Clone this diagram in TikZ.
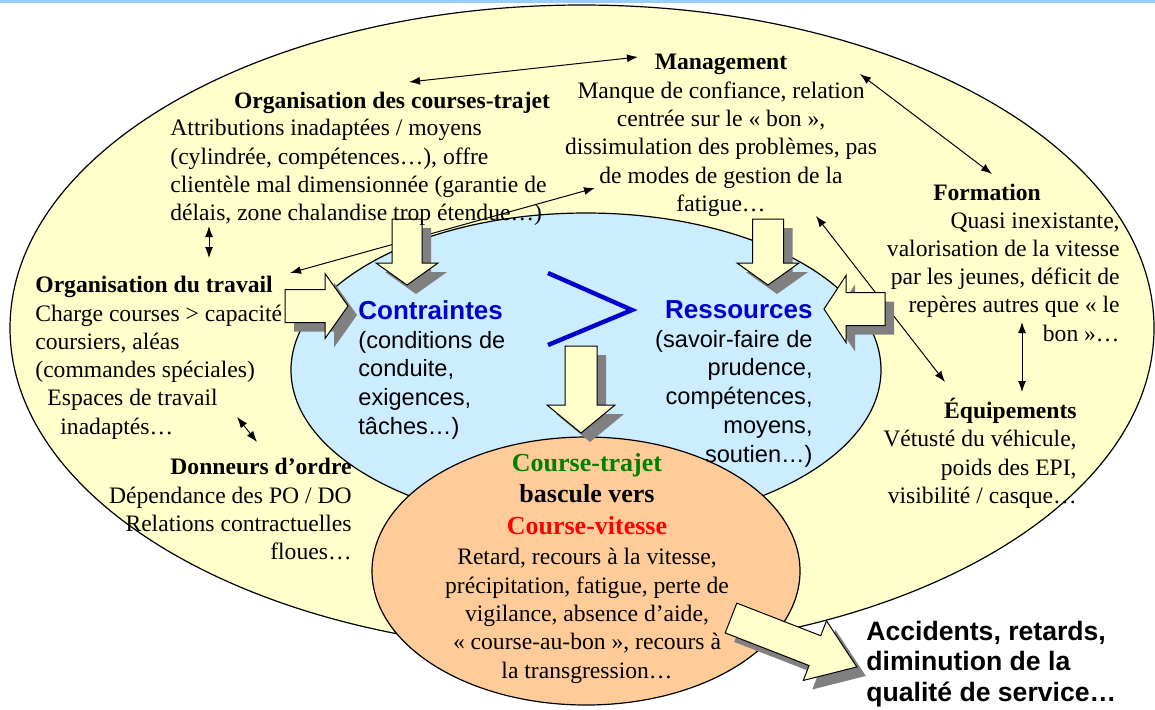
\documentclass[tikz,border=0pt]{standalone}
\usepackage{fontspec}
\setmainfont{Liberation Serif}
\newfontfamily\arial{Liberation Sans}
\usetikzlibrary{arrows.meta}
\definecolor{jaune}{RGB}{255,255,204}
\definecolor{ciel}{RGB}{204,236,255}
\definecolor{saumon}{RGB}{255,204,153}
\definecolor{bleu}{RGB}{0,0,204}
\definecolor{vert}{RGB}{0,128,0}
\definecolor{ombre}{RGB}{128,128,128}
\definecolor{bandeau}{RGB}{153,204,255}
\tikzset{
  txt/.style={inner sep=0pt,font=\fontsize{11.8}{14.15}\selectfont},
  sans/.style={inner sep=0pt,font=\arial\fontsize{11.8}{14.4}\selectfont},
  lien/.style={<->,>={Latex[length=5.5pt,width=4pt]},line width=.5pt},
  ombrage/.style={fill=ombre},
  bloc/.style={fill=jaune,draw=black,line width=.5pt},
  zone/.style={draw=black,line width=.6pt}
}
% tail, angle, length, half shaft, half head, head length
\newcommand\fleche[6]{%
  \foreach \dx/\st in {9/ombrage,0/bloc}
    \path[\st,shift={#1},shift={(\dx,\dx)},rotate=#2]
      (0,-#4)--(#3-#6,-#4)--(#3-#6,-#5)--(#3,0)--(#3-#6,#5)--(#3-#6,#4)--(0,#4)--cycle;}
\begin{document}
\begin{tikzpicture}[x=.5pt,y=-.5pt]
\useasboundingbox (0,0) rectangle (1155,709);
\fill[bandeau] (0,0) rectangle (1155,2.5);
\path[zone,fill=jaune] (582,328) ellipse [x radius=572,y radius=323];
\path[zone,fill=ciel] (586,370) ellipse [x radius=295,y radius=157];
\path[zone,fill=saumon] (586,571) ellipse [x radius=214,y radius=134];
\draw[bleu,line width=2.2pt] (548,273)--(632,310)--(548,345);

\coordinate (oc1) at (409,82);  \coordinate (mg1) at (638,57);
\coordinate (mg2) at (860,74);  \coordinate (fo1) at (992,174);
\coordinate (oc2) at (209,226); \coordinate (ot1) at (209,258);
\coordinate (ot2) at (290,273); \coordinate (mg3) at (595,188);
\coordinate (mg4) at (816,216); \coordinate (eq1) at (945,382);
\coordinate (fo2) at (1022,322);\coordinate (eq2) at (1022,392);
\coordinate (ot3) at (237,417); \coordinate (do1) at (257,442);
\foreach \a/\b in {oc1/mg1,mg2/fo1,oc2/ot1,ot2/mg3,mg4/eq1,fo2/eq2,ot3/do1}
  \draw[lien] (\a)--(\b);

\fleche{(407,219)}{-90}{66}{15}{31}{22}
\fleche{(285,306)}{0}{63}{16.5}{32.5}{23}
\fleche{(768,219)}{-90}{66}{15.5}{31}{22}
\fleche{(885,309)}{180}{61}{16.5}{33.5}{22}
\fleche{(581,346)}{-90}{87}{16}{34}{28}
\fleche{(731,618)}{-21.25}{135}{16}{32}{45}

\node[txt,anchor=north,align=center] (mgt) at (721,54) {\textbf{Management}\\Manque de confiance, relation\\centrée sur le « bon »,\\dissimulation des problèmes, pas\\de modes de gestion de la\\fatigue…};
\node[txt,anchor=north] (orgctit) at (392,92) {\textbf{Organisation des courses-trajet}};
\node[txt,anchor=north west,align=left] (orgc) at (170,119) {Attributions inadaptées / moyens\\(cylindrée, compétences…), offre\\clientèle mal dimensionnée (garantie de\\délais, zone chalandise trop étendue…)};
\node[txt,anchor=north west,align=left] (orgt) at (35,276) {\textbf{Organisation du travail}\\Charge courses > capacité\\coursiers, aléas\\(commandes spéciales)\\\hspace*{6pt}Espaces de travail\\\hspace*{12.5pt}inadaptés…};
\node[txt,anchor=north east,align=right] (donn) at (352,458) {\textbf{Donneurs d’ordre}\\Dépendance des PO / DO\\Relations contractuelles\\floues…};
\node[txt,anchor=north] (formtit) at (987,184) {\textbf{Formation}};
\node[txt,anchor=north east,align=right] (form) at (1120,212) {Quasi inexistante,\\valorisation de la vitesse\\par les jeunes, déficit de\\repères autres que « le\\bon »…};
\node[txt,anchor=north east,align=right] (equip) at (1077,398) {\textbf{Équipements}\\Vétusté du véhicule,\\poids des EPI,\\visibilité / casque…};
\node[sans,anchor=north west,align=left] (contr) at (358,300) {{\fontsize{13}{15}\selectfont\bfseries\color{bleu}Contraintes}\\(conditions de\\conduite,\\exigences,\\tâches…)};
\node[sans,anchor=north east,align=right] (ress) at (813,300) {{\fontsize{13}{15}\selectfont\bfseries\color{bleu}Ressources}\\(savoir-faire de\\prudence,\\compétences,\\moyens,\\soutien…)};
\node[txt,anchor=north,align=center,font=\fontsize{13}{15.7}\selectfont\bfseries] (bascule) at (587,453) {\textcolor{vert}{Course-trajet}\\bascule vers\\\textcolor{red}{Course-vitesse}};
\node[txt,anchor=north,align=center] (effets) at (587,548) {Retard, recours à la vitesse,\\précipitation, fatigue, perte de\\vigilance, absence d’aide,\\« course-au-bon », recours à\\la transgression…};
\node[sans,anchor=north west,align=left,font=\arial\bfseries\fontsize{13.3}{15.1}\selectfont] (acc) at (866,621) {Accidents, retards,\\diminution de la\\qualité de service…};
\end{tikzpicture}
\end{document}
